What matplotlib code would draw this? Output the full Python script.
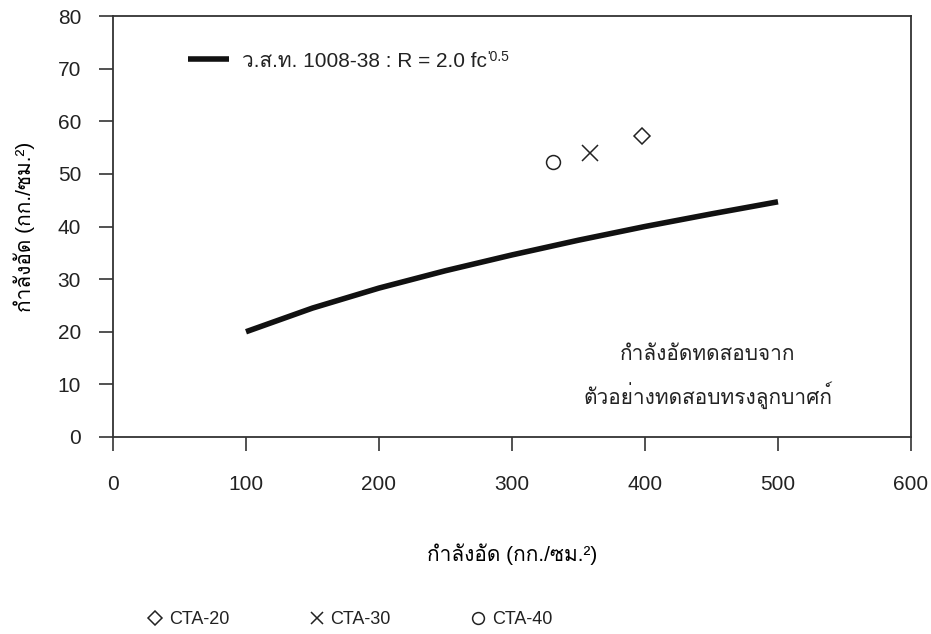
import matplotlib
matplotlib.use("Agg")
import matplotlib.pyplot as plt
from matplotlib import font_manager
from matplotlib.ft2font import FT2Font

# find an installed font with Thai glyphs, if any
thai_font = None
for f in font_manager.fontManager.ttflist:
    try:
        if 0x0E01 in FT2Font(f.fname).get_charmap():
            thai_font = f.name
            break
    except Exception:
        pass

families = ["Liberation Sans", "DejaVu Sans"]
if thai_font:
    families = ["Liberation Sans", thai_font, "DejaVu Sans"]
plt.rcParams["font.family"] = families
plt.rcParams["text.color"] = "#222222"

# standard curve
std_x = [100, 150, 200, 250, 300, 350, 400, 450, 500]
std_r = [20.0, 24.5, 28.3, 31.6, 34.6, 37.4, 40.0, 42.4, 44.7]

# test points
series = ["CTA-20", "CTA-30", "CTA-40"]
pt_x = [398, 359, 331]
pt_y = [57.2, 54.0, 52.3]
markers = ["D", "x", "o"]
msizes = [8, 11, 10]

fig = plt.figure(figsize=(9.31, 6.34), dpi=100)
ax = fig.add_axes([113 / 931, 1 - 437 / 634, (911 - 113) / 931, (437 - 16) / 634])

line, = ax.plot(std_x, std_r, color="#111111", lw=4.0, solid_capstyle="butt")

handles = []
for name, x, y, m, s in zip(series, pt_x, pt_y, markers, msizes):
    if m == "x":
        h, = ax.plot([x], [y], ls="none", marker=m, ms=s, color="#222222", mew=1.1)
    else:
        h, = ax.plot([x], [y], ls="none", marker=m, ms=s, mfc="none", mec="#222222", mew=1.1)
    handles.append(h)

ax.set_xlim(0, 600)
ax.set_ylim(0, 80)
ax.set_xticks(range(0, 601, 100))
ax.set_yticks(range(0, 81, 10))
ax.tick_params(direction="out", length=10, width=1.2, labelsize=15,
               color="#333333", labelcolor="#222222")
ax.tick_params(axis="x", pad=17)
ax.tick_params(axis="y", pad=13)
for sp in ax.spines.values():
    sp.set_linewidth(1.3)
    sp.set_color("#333333")

# legend for the standard curve
leg = ax.legend([line], ["ว.ส.ท. 1008-38 : R = 2.0 fc"], loc="upper left",
                bbox_to_anchor=(0.07, 0.96), frameon=False, fontsize=15,
                handlelength=2.0, handletextpad=0.6)
ax.annotate("'0.5", xy=(1, 1), xycoords=leg.get_texts()[0], xytext=(0.5, 1),
            textcoords="offset points", fontsize=10, ha="left", va="top", zorder=10)

ax.text(447, 15.6, "กำลังอัดทดสอบจาก", ha="center", va="center", fontsize=15)
ax.text(447, 8.0, "ตัวอย่างทดสอบทรงลูกบาศก์", ha="center", va="center", fontsize=15)

ax.set_xlabel("กำลังอัด (กก./ซม.²)", fontsize=15, labelpad=36)
ax.set_ylabel("กำลังอัด (กก./ซม.²)", fontsize=15, labelpad=16)

fig.legend(handles, series, loc="center left", bbox_to_anchor=(132 / 931, 1 - 620 / 634),
           ncol=3, frameon=False, fontsize=13, handlelength=0.75, handletextpad=0.4,
           columnspacing=4.45, markerscale=0.85)

fig.savefig("out.png", dpi=100)
